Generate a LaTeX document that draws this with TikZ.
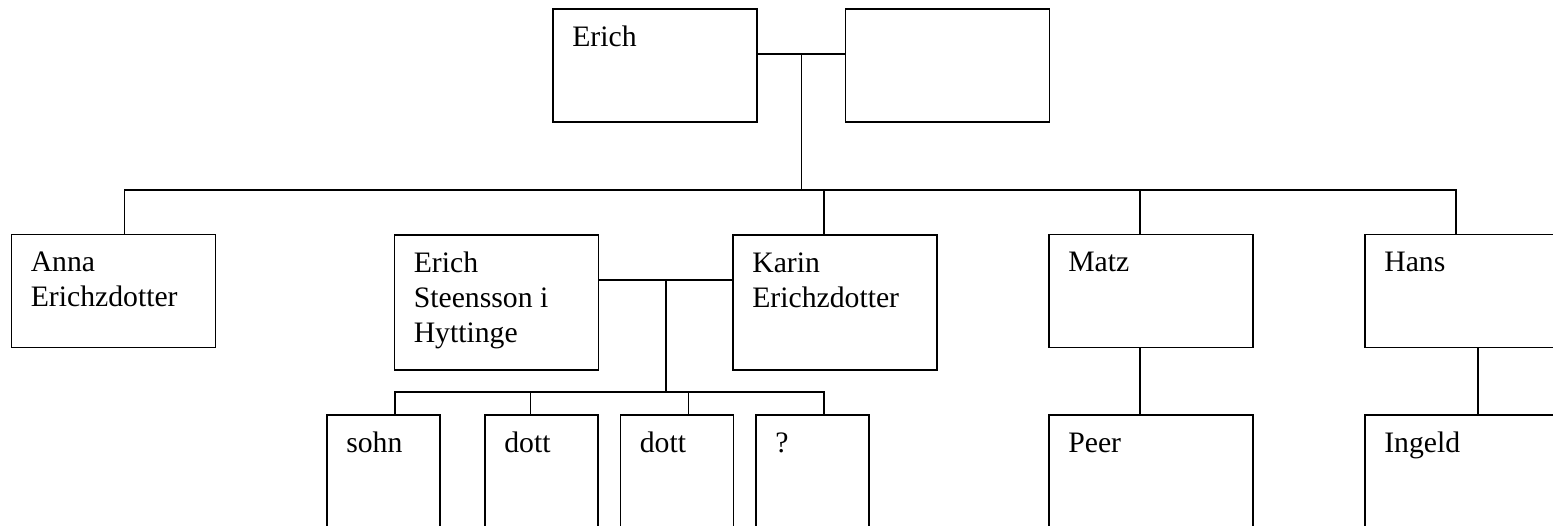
\documentclass[tikz,border=0pt]{standalone}
\usepackage{fontspec}
\setmainfont{Liberation Serif}
\begin{document}
\begin{tikzpicture}[x=0.5pt,y=-0.5pt,
  famebox/.style={draw, line width=0.6pt, rectangle, inner sep=0pt},
  bigbox/.style={famebox, minimum width=102pt, minimum height=56.5pt},
  tallbox/.style={famebox, minimum width=102pt, minimum height=67.5pt},
  kidbox/.style={famebox, minimum width=56.5pt, minimum height=67.5pt},
  nametext/.style={anchor=north west, inner sep=0pt, align=left,
    font=\fontsize{14.85pt}{17.5pt}\selectfont},
  famlink/.style={line width=0.6pt}]
\clip (0,0) rectangle (1553,525);
\useasboundingbox (0,0) rectangle (1553,525);
% boxes
\node[bigbox] (erich) at (655,65.5) {};
\node[bigbox] (spouse) at (947.5,65.5) {};
\node[bigbox] (anna) at (113.5,291) {};
\node[tallbox] (es) at (496.5,302.5) {};
\node[tallbox] (karin) at (835,302.5) {};
\node[bigbox] (matz) at (1151,291) {};
\node[bigbox] (hans) at (1467,291) {};
\node[kidbox] (sohn) at (383.5,482.5) {};
\node[kidbox] (dottA) at (541.5,482.5) {};
\node[kidbox] (dottB) at (677,482.5) {};
\node[kidbox] (qq) at (812.5,482.5) {};
\node[tallbox] (peer) at (1151,482.5) {};
\node[tallbox] (ingeld) at (1467,482.5) {};
% texts
\node[nametext] (terich) at ([xshift=9.75pt,yshift=-6.5pt]erich.north west) {\strut Erich};
\node[nametext] (tanna) at ([xshift=9.75pt,yshift=-6.5pt]anna.north west) {\strut Anna\\Erichzdotter};
\node[nametext] (tes) at ([xshift=9.75pt,yshift=-6.5pt]es.north west) {\strut Erich\\Steensson i\\Hyttinge};
\node[nametext] (tkarin) at ([xshift=9.75pt,yshift=-6.5pt]karin.north west) {\strut Karin\\Erichzdotter};
\node[nametext] (tmatz) at ([xshift=9.75pt,yshift=-6.5pt]matz.north west) {\strut Matz};
\node[nametext] (thans) at ([xshift=9.75pt,yshift=-6.5pt]hans.north west) {\strut Hans};
\node[nametext] (tsohn) at ([xshift=9.75pt,yshift=-6.5pt]sohn.north west) {\strut sohn};
\node[nametext] (tdottA) at ([xshift=9.75pt,yshift=-6.5pt]dottA.north west) {\strut dott};
\node[nametext] (tdottB) at ([xshift=9.75pt,yshift=-6.5pt]dottB.north west) {\strut dott};
\node[nametext] (tqq) at ([xshift=9.75pt,yshift=-6.5pt]qq.north west) {\strut ?};
\node[nametext] (tpeer) at ([xshift=9.75pt,yshift=-6.5pt]peer.north west) {\strut Peer};
\node[nametext] (tingeld) at ([xshift=9.75pt,yshift=-6.5pt]ingeld.north west) {\strut Ingeld};
% junction coordinates
\coordinate (m1) at (801.7,54);
\coordinate (j1) at (801.7,190);
\coordinate (barL) at (124.3,190);
\coordinate (barR) at (1456,190);
\coordinate (kx) at (824,190);
\coordinate (mx) at (1140,190);
\coordinate (m2) at (666,280);
\coordinate (j2) at (666,392);
\coordinate (cbL) at (395,392);
\coordinate (cbA) at (530.7,392);
\coordinate (cbB) at (688.3,392);
\coordinate (cbR) at (824,392);
\coordinate (hx) at (1478,347);
% connectors
\draw[famlink] (erich.east |- m1) -- (spouse.west |- m1);
\draw[famlink] (m1) -- (j1);
\draw[famlink] (barL |- anna.north) -- (barL) -- (barR) -- (barR |- hans.north);
\draw[famlink] (kx) -- (kx |- karin.north);
\draw[famlink] (mx) -- (mx |- matz.north);
\draw[famlink] (es.east |- m2) -- (karin.west |- m2);
\draw[famlink] (m2) -- (j2);
\draw[famlink] (cbL |- sohn.north) -- (cbL) -- (cbR) -- (cbR |- qq.north);
\draw[famlink] (cbA) -- (cbA |- dottA.north);
\draw[famlink] (cbB) -- (cbB |- dottB.north);
\draw[famlink] (mx |- matz.south) -- (mx |- peer.north);
\draw[famlink] (hx |- hans.south) -- (hx |- ingeld.north);
\end{tikzpicture}
\end{document}
